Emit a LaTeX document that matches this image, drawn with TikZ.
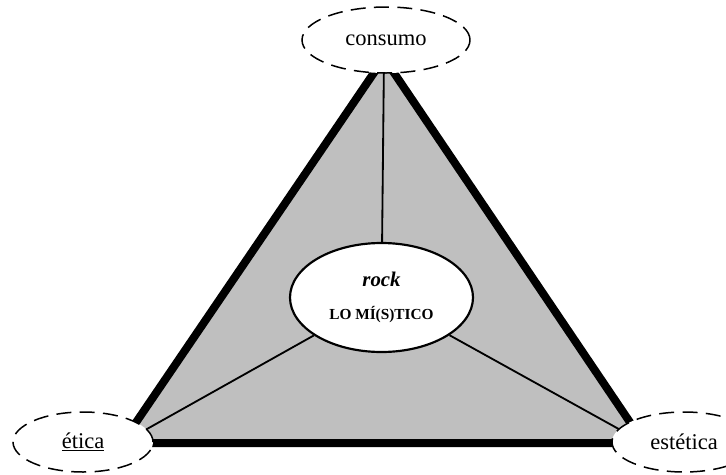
\documentclass[tikz,border=0pt]{standalone}
\usepackage{fontspec}
\setmainfont{Liberation Serif}
\usetikzlibrary{shapes.geometric,backgrounds}

\begin{document}
\begin{tikzpicture}[
    x=0.6pt, y=-0.6pt,
    polo/.style={draw, ellipse, dashed, dash pattern=on 9pt off 5pt, line width=0.9pt, fill=white, inner sep=0pt, font=\fontsize{13.5}{16}\selectfont},
    centro/.style={draw, ellipse, line width=1.3pt, fill=white, inner sep=0pt, align=center, minimum width=183*0.6pt, minimum height=109*0.6pt},
    borde/.style={line width=4.8pt, line join=miter},
    radio/.style={line width=1.1pt}
]
\useasboundingbox (0,0) rectangle (726,475);

% --- vertices del triangulo ---
\coordinate (apex) at (384,58);
\coordinate (vizq) at (122,443);
\coordinate (vder) at (644,443);

% --- polos ---
\node[polo, minimum width=168*0.6pt, minimum height=66*0.6pt] (consumo) at (386,40) {consumo};
\node[polo, minimum width=140*0.6pt, minimum height=60*0.6pt] (etica) at (83,442) {\underline{ética}};
\node[polo, minimum width=144*0.6pt, minimum height=60*0.6pt] (estetica) at (684,442) {estética};

% --- centro ---
\node[centro] (rock) at (381.5,297.5) {{\fontsize{12.5}{14}\selectfont\bfseries\itshape rock}\\[8pt]{\fontsize{9.2}{11}\selectfont\bfseries LO MÍ(S)TICO}};

% --- triangulo y radios ---
\begin{scope}[on background layer]
\fill[gray!50] (apex) -- (vizq) -- (vder) -- cycle;
\draw[radio] (rock) -- (apex);
\draw[radio] (rock) -- (vizq);
\draw[radio] (rock) -- (vder);
\draw[borde] (apex) -- (vizq) -- (vder) -- cycle;
\end{scope}

\end{tikzpicture}
\end{document}
